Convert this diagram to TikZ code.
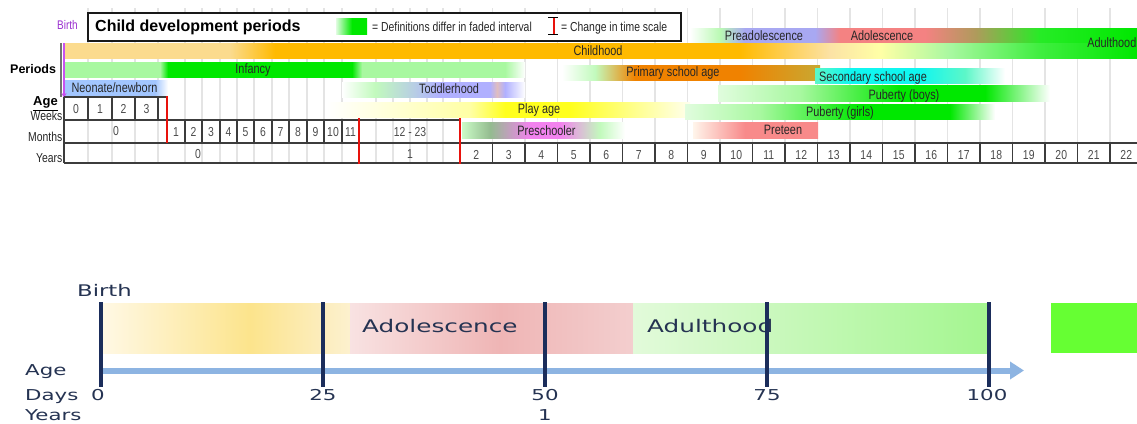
\documentclass[tikz,border=0pt]{standalone}
\usepackage{fontspec}
\setmainfont{Liberation Sans}
\newfontfamily\narf{Liberation Sans}[FakeStretch=0.8]
\newfontfamily\widef{DejaVu Sans}[FakeStretch=1.42]
\usetikzlibrary{arrows.meta}
\definecolor{gridc}{HTML}{E4E4E4}
\definecolor{tlc}{HTML}{3C3C3C}
\definecolor{redl}{HTML}{E8120C}
\definecolor{orL}{HTML}{FBDB8E}
\definecolor{orC}{HTML}{FFBA00}
\definecolor{grL}{HTML}{A8F8A0}
\definecolor{grB}{HTML}{00E800}
\definecolor{blN}{HTML}{A2C6FF}
\definecolor{lav}{HTML}{B0B0FF}
\definecolor{yel}{HTML}{FFFF1E}
\definecolor{pnk}{HTML}{F282EE}
\definecolor{ptn}{HTML}{F88A8A}
\definecolor{pad}{HTML}{A8A8F2}
\definecolor{adl}{HTML}{F48282}
\definecolor{olv}{HTML}{B09A5C}
\definecolor{prim}{HTML}{F08200}
\definecolor{gold}{HTML}{C8A832}
\definecolor{cya}{HTML}{10F6F0}
\definecolor{purp}{HTML}{9B30D0}
\definecolor{purA}{HTML}{C850F0}
\definecolor{navy}{HTML}{1B2D5B}
\definecolor{axb}{HTML}{8DB4E2}
\definecolor{btxt}{HTML}{253352}
\definecolor{brt}{HTML}{66FF33}
\definecolor{bYa}{HTML}{FFF8E4}
\definecolor{bYb}{HTML}{FCE48C}
\definecolor{bYc}{HTML}{FCEEC2}
\definecolor{bYd}{HTML}{FDF1CE}
\definecolor{bPa}{HTML}{F8E2E2}
\definecolor{bPb}{HTML}{EFB5B5}
\definecolor{bPc}{HTML}{F3CECE}
\definecolor{bGa}{HTML}{E2FADA}
\definecolor{bGb}{HTML}{A4F690}
\newcommand{\bseg}[6]{\shade[left color=#5,right color=#6] (#3,#1) rectangle (#4,#2);}
\tikzset{
  gridline/.style={gridc, line width=1.2pt},
  tline/.style={tlc, line width=1.3pt},
  redline/.style={redl, line width=2pt},
  lab/.style={font={\narf\fontsize{13.6}{13.6}\selectfont}, inner sep=0pt, text height=9.7pt, text depth=0pt, text=black!85},
  tnum/.style={font={\narf\fontsize{13}{13}\selectfont}, inner sep=0pt, text height=9.3pt, text depth=0pt, text=black!70},
  side/.style={font={\narf\fontsize{13}{13}\selectfont}, inner sep=0pt, text height=9.3pt, text depth=0pt, text=black!85},
  bt/.style={font={\widef\fontsize{15}{15}\selectfont}, inner sep=0pt, text height=10.9pt, text depth=0pt, text=btxt},
  bbig/.style={font={\widef\fontsize{17.4}{17.4}\selectfont}, inner sep=0pt, text height=12.7pt, text depth=0pt, text=btxt},
  navyline/.style={navy, line width=3.5pt},
}
\begin{document}
\begin{tikzpicture}[x=1pt,y=-1pt]
\useasboundingbox (0,0) rectangle (1137,423);
\fill[white] (0,0) rectangle (1137,423);
% ---------- grid ----------
\foreach \x in {88,112,135,158,185,202,220,237,254,272,289,307,324,342,376,393,410,427,443}
  \draw[gridline] (\x,8) -- (\x,163);
\foreach \k in {0,...,20}
  \draw[gridline] ({460+32.5*\k},8) -- ++(0,155);
% ---------- bars ----------
% Preadolescence / Adolescence / Adulthood row
\bseg{28}{43}{690}{720}{white}{grL!80}
\bseg{28}{43}{720}{745}{grL!80}{pad}
\bseg{28}{43}{745}{815}{pad}{pad}
\bseg{28}{43}{815}{840}{pad}{adl}
\bseg{28}{43}{840}{925}{adl}{adl}
\bseg{28}{43}{925}{975}{adl}{olv}
\bseg{28}{43}{975}{1040}{olv}{grB!85}
\bseg{28}{43}{1040}{1137}{grB!85}{grB}
% Childhood row
\bseg{43}{58}{64}{230}{orL}{orL}
\bseg{43}{58}{230}{275}{orL}{orC}
\bseg{43}{58}{275}{740}{orC}{orC}
\bseg{43}{58}{740}{830}{orC}{orL!80}
\bseg{43}{58}{830}{880}{orL!80}{yellow!35}
\bseg{43}{58}{880}{950}{yellow!35}{grL}
\bseg{43}{58}{950}{1040}{grL}{grB!75}
\bseg{43}{58}{1040}{1137}{grB!75}{grB}
% Infancy
\bseg{62}{77}{64}{160}{grL}{grL}
\bseg{62}{77}{160}{168}{grL}{grB}
\bseg{62}{77}{168}{352}{grB}{grB}
\bseg{62}{77}{352}{362}{grB}{grL}
\bseg{62}{77}{362}{505}{grL}{grL}
\bseg{62}{77}{505}{525}{grL}{white}
% Primary school age
\bseg{65}{80}{562}{595}{white}{grL!70}
\bseg{65}{80}{595}{635}{grL!70}{prim}
\bseg{65}{80}{635}{740}{prim}{prim}
\bseg{65}{80}{740}{820}{prim}{gold}
% Secondary school age
\bseg{68}{83}{815}{850}{cya!50!grL}{cya}
\bseg{68}{83}{850}{920}{cya}{cya}
\bseg{68}{83}{920}{965}{cya}{cya!50!grL}
\bseg{68}{83}{965}{1005}{cya!50!grL}{white}
% Neonate
\bseg{80}{96}{64}{155}{blN}{blN}
\bseg{80}{96}{155}{168}{blN}{white}
% Toddlerhood
\bseg{82}{97}{342}{375}{white}{grL!70}
\bseg{82}{97}{375}{440}{grL!70}{lav}
\bseg{82}{97}{440}{490}{lav}{lav}
\bseg{82}{97}{490}{497}{lav}{pnk!40!olv!60}
\bseg{82}{97}{497}{505}{pnk!40!olv!60}{lav}
\bseg{82}{97}{505}{525}{lav}{white}
% Puberty (boys)
\bseg{85}{101}{718}{800}{grL!35}{grL}
\bseg{85}{101}{800}{900}{grL}{grB}
\bseg{85}{101}{900}{985}{grB}{grB}
\bseg{85}{101}{985}{1050}{grB}{white}
% Play age
\bseg{102}{117}{327}{470}{white}{yel!40}
\bseg{102}{117}{470}{505}{yel!40}{yel}
\bseg{102}{117}{505}{570}{yel}{yel}
\bseg{102}{117}{570}{690}{yel}{yel!8}
% Puberty (girls)
\bseg{104}{119}{685}{760}{grL!35}{grL}
\bseg{104}{119}{760}{860}{grL}{grB}
\bseg{104}{119}{860}{950}{grB}{grB}
\bseg{104}{119}{950}{995}{grB}{white}
% Preschooler
\bseg{122}{138}{462}{490}{grL!60}{gray!50!grL}
\bseg{122}{138}{490}{530}{gray!50!grL}{pnk}
\bseg{122}{138}{530}{560}{pnk}{pnk}
\bseg{122}{138}{560}{600}{pnk}{grL!70}
\bseg{122}{138}{600}{625}{grL!70}{white}
% Preteen
\bseg{122}{138}{693}{745}{orange!8}{ptn}
\bseg{122}{138}{745}{818}{ptn}{ptn}
% ---------- bar labels ----------
\node[lab] (pread) at (764,36) {Preadolescence};
\node[lab] (adol) at (882,36) {Adolescence};
\node[lab, anchor=east] (adult) at (1136.5,43) {Adulthood};
\node[lab] (child) at (598,51) {Childhood};
\node[lab] (inf) at (253,69) {Infancy};
\node[lab] (prim) at (673,72) {Primary school age};
\node[lab] (sec) at (873,77) {Secondary school age};
\node[lab] (neo) at (114.5,88) {Neonate/newborn};
\node[lab] (tod) at (449,89) {Toddlerhood};
\node[lab] (pubb) at (904,95) {Puberty (boys)};
\node[lab] (play) at (539,109) {Play age};
\node[lab] (pubg) at (840,112) {Puberty (girls)};
\node[lab] (pres) at (546.5,131) {Preschooler};
\node[lab] (pret) at (783,130) {Preteen};
% ---------- title / legend ----------
\node[draw=black!90, line width=1.5pt, fill=white, minimum width=593pt, minimum height=28pt, inner sep=0pt, anchor=north west] (legbox) at (87,12) {};
\node[anchor=west, font={\bfseries\fontsize{16}{16}\selectfont}, inner sep=0pt, text height=11.5pt, text depth=0pt] (title) at (95,25.5) {Child development periods};
\bseg{18}{34}{336}{352}{grB!12}{grB}
\bseg{18}{34}{352}{367}{grB}{grB}
\node[side, anchor=west] (leg1) at (372,26.5) {= Definitions differ in faded interval};
\coordinate (ibt) at (554,17);
\coordinate (ibb) at (554,34);
\draw[redline, line width=1.6pt] (ibt) -- (ibb);
\draw[black, line width=1pt] ([xshift=-6pt]ibt) -- ([xshift=4pt]ibt);
\draw[black, line width=1pt] ([xshift=-6pt]ibb) -- ([xshift=4pt]ibb);
\node[side, anchor=west] (leg2) at (561,26.5) {= Change in time scale};
% ---------- left labels ----------
\node[side, anchor=west, text=purp, font={\narf\fontsize{12.5}{12.5}\selectfont}] (birth) at (57,25) {Birth};
\coordinate (ga) at (61,43);
\coordinate (gb) at (61,97);
\draw[black!55, line width=1.2pt] (ga) -- (gb);
\coordinate (pa) at (64,43);
\coordinate (pb) at (64,98);
\draw[purA, line width=1.2pt, -{Stealth[length=5pt,width=5pt]}] (pa) -- (pb);
\node[anchor=west, font={\bfseries\fontsize{12.5}{12.5}\selectfont}, inner sep=0pt, text height=9pt, text depth=0pt] (periods) at (10,69) {Periods};
\node[font={\bfseries\fontsize{13}{13}\selectfont}, inner sep=0pt, text height=9.4pt, text depth=0pt] (age) at (45.5,101) {\underline{Age}};
\node[side, anchor=east] (weeks) at (62.5,116) {Weeks};
\node[side, anchor=east] (months) at (62.5,137) {Months};
\node[side, anchor=east] (years) at (62.5,158) {Years};
% ---------- table ----------
\draw[tline] (64,97) -- (167,97);
\draw[tline] (64,120) -- (460,120);
\draw[tline] (64,143) -- (1137,143);
\draw[tline] (64,163) -- (1137,163);
\draw[tline] (64,97) -- (64,163);
\foreach \x in {88,112,135,158} \draw[tline] (\x,97) -- (\x,120);
\foreach \x in {185,202,220,237,254,272,289,307,324,342} \draw[tline] (\x,120) -- (\x,143);
\foreach \k in {1,...,20} \draw[tline] ({460+32.5*\k},143) -- ++(0,20);
\draw[redline] (167,96) -- (167,143);
\draw[redline] (359,118) -- (359,164);
\draw[redline] (460,118) -- (460,164);
\foreach \w/\cx in {0/76,1/100,2/123.5,3/146.5}
  \node[tnum] (wk\w) at (\cx,109) {\w};
\node[tnum] (mo0) at (116,131) {0};
\foreach \m/\cx in {1/176,2/193.5,3/211,4/228.5,5/245.5,6/263,7/280.5,8/298,9/315.5,10/333,11/350.5}
  \node[tnum] (mo\m) at (\cx,131.5) {\m};
\node[tnum] (mo12) at (410,131.5) {12 - 23};
\node[tnum] (yr0) at (198,153.5) {0};
\node[tnum] (yr1) at (410,154) {1};
\foreach \n in {2,...,22}
  \node[tnum] (yr\n) at ({460+(\n-2)*32.5+16.25},154.5) {\n};
% ---------- bottom diagram ----------
\bseg{303}{353}{103}{250}{bYa}{bYb}
\bseg{303}{353}{250}{330}{bYb}{bYc}
\bseg{303}{353}{330}{350}{bYc}{bYd}
\bseg{303}{353}{350}{500}{bPa}{bPb}
\bseg{303}{353}{500}{633}{bPb}{bPc}
\bseg{303}{353}{633}{988}{bGa}{bGb}
\fill[brt] (1051,303) rectangle (1137,353);
\node[bbig, anchor=west] (badol) at (362,326.5) {Adolescence};
\node[bbig, anchor=west] (badult) at (647,326.5) {Adulthood};
\coordinate (ax0) at (101,370.5);
\coordinate (ax1) at (1024,370.5);
\draw[axb, line width=6pt, -{Triangle[length=14pt,width=17pt]}] (ax0) -- (ax1);
\foreach \i/\x in {0/101,1/323,2/545,3/767,4/989}{
  \coordinate (nt\i) at (\x,302);
  \coordinate (nb\i) at (\x,387);
  \draw[navyline] (nt\i) -- (nb\i);
}
\node[bt, anchor=west, font={\widef\fontsize{16}{16}\selectfont}, text height=11.6pt] (bbirth) at (77,290.5) {Birth};
\node[bt, anchor=west] (bage) at (25,370.5) {Age};
\node[bt, anchor=west] (bdays) at (25,395.5) {Days};
\node[bt, anchor=west] (byears) at (25,415) {Years};
\node[bt] (d0) at (98,395.5) {0};
\node[bt] (d25) at (323,395.5) {25};
\node[bt] (d50) at (545,395.5) {50};
\node[bt] (d75) at (767,395.5) {75};
\node[bt] (d100) at (987,395.5) {100};
\node[bt] (y1b) at (545,415) {1};
\end{tikzpicture}
\end{document}
